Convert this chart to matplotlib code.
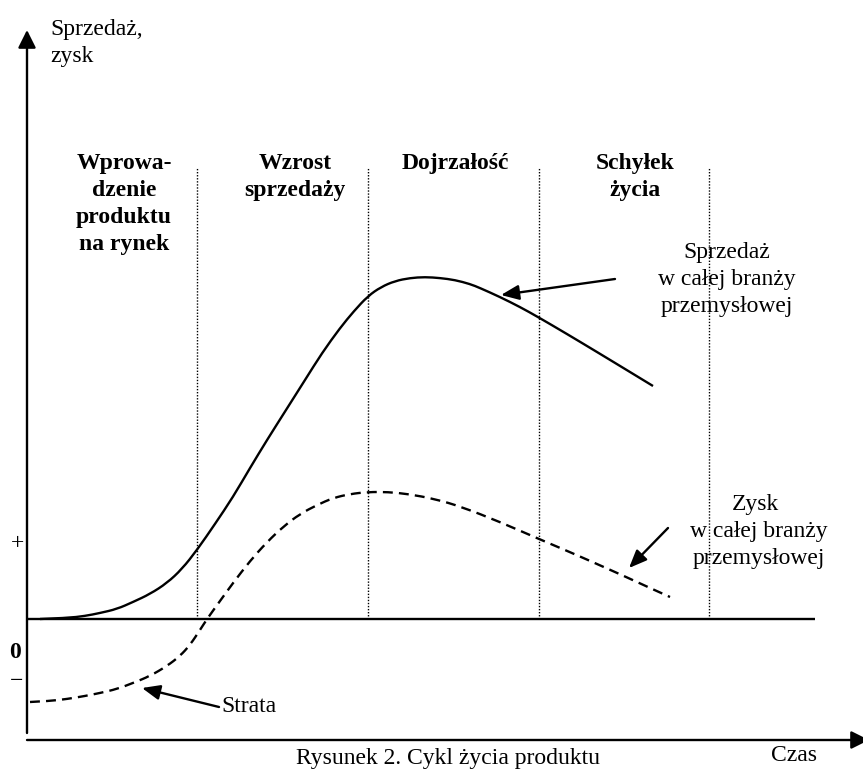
import matplotlib
matplotlib.use("Agg")
import matplotlib.pyplot as plt
from matplotlib.path import Path
from matplotlib.patches import PathPatch

plt.rcParams["font.family"] = ["Liberation Serif", "DejaVu Serif"]

# time axis: 0 at the vertical axis; value axis: 0 at the break-even line
phase_bounds = [170, 341, 512, 682]
phase_names = [
    ["Wprowa-", "dzenie", "produktu", "na rynek"],
    ["Wzrost", "sprzedaży"],
    ["Dojrzałość"],
    ["Schyłek", "życia"],
]

sales_t = [13, 40, 58, 73, 90, 106, 123, 140, 155, 170, 188, 206, 223, 240,
           259, 278, 295, 313, 327, 341, 354, 368, 383, 398, 413, 428, 443,
           453, 473, 493, 511, 540, 570, 603, 626]
sales_v = [0, 1, 3, 6, 10, 17, 25, 36, 50, 69, 95, 122, 151, 179,
           209, 239, 266, 291, 308, 323, 332, 338, 341, 342, 341, 339, 335,
           331, 322, 312, 302, 285, 267, 247, 233]

profit_t = [3, 23, 40, 58, 73, 90, 106, 123, 140, 153, 163, 173, 180, 193,
            206, 223, 240, 257, 273, 290, 306, 323, 341, 361, 381, 408, 435,
            473, 512, 538, 561, 597, 623, 643]
profit_v = [-83, -82, -80, -77, -74, -70, -64, -57, -47, -37, -26, -11, 0, 18,
            36, 58, 77, 93, 105, 114, 121, 125, 127, 127, 125, 120, 112,
            97, 80, 69, 59, 43, 31, 22]

side_marks = ["+", "0", "−"]


def P(x, y):
    # picture position -> data coordinates
    return x - 27, 619 - y


def smooth_path(xs, ys):
    # quadratic B-spline through the read points (points act as controls)
    pts = list(zip(xs, ys))
    verts = [pts[0]]
    codes = [Path.MOVETO]
    for i in range(1, len(pts) - 1):
        mid = ((pts[i][0] + pts[i + 1][0]) / 2, (pts[i][1] + pts[i + 1][1]) / 2)
        if i == len(pts) - 2:
            mid = pts[-1]
        verts += [pts[i], mid]
        codes += [Path.CURVE3, Path.CURVE3]
    return Path(verts, codes)


fig = plt.figure(figsize=(8.63, 7.69), dpi=100)
ax = fig.add_axes([0, 0, 1, 1])
ax.set_xlim(-27, 836)
ax.set_ylim(-150, 619)
ax.axis("off")

FS = 17
LW = 1.7

# axes with arrows
axis_arrow = dict(arrowstyle="-|>,head_length=0.6,head_width=0.3",
                  mutation_scale=18, lw=LW, color="black",
                  shrinkA=0, shrinkB=0)
ax.annotate("", xy=P(27, 30), xytext=P(27, 733), arrowprops=axis_arrow,
            annotation_clip=False)
ax.annotate("", xy=P(869, 740), xytext=P(27, 740), arrowprops=axis_arrow,
            annotation_clip=False)
ax.plot([0, 788], [0, 0], color="black", lw=LW, solid_capstyle="butt")

# phase separators
for b in phase_bounds:
    ax.plot([b, b], [0, 619 - 167], color="black", lw=1.0,
            linestyle=(0, (1, 1.2)))

# curves
ax.add_patch(PathPatch(smooth_path(sales_t, sales_v), fill=False,
                       edgecolor="black", lw=LW, capstyle="butt"))
ax.add_patch(PathPatch(smooth_path(profit_t, profit_v), fill=False,
                       edgecolor="black", lw=LW, linestyle=(0, (4.2, 2.6))))

# phase labels
centers = [124, 295, 455, 635]
for cx, lines in zip(centers, phase_names):
    for i, s in enumerate(lines):
        ax.text(*P(cx, 169 + 27 * i), s, ha="center", va="baseline",
                fontsize=FS, fontweight="bold")

# axis labels
ax.text(*P(50, 35), "Sprzedaż,", fontsize=FS, va="baseline")
ax.text(*P(50, 62), "zysk", fontsize=FS, va="baseline")
ax.text(*P(794, 761), "Czas", fontsize=FS, ha="center", va="baseline")

for s, (x, y), w in zip(side_marks, [(17, 544), (15, 653), (17, 682)],
                        ["normal", "bold", "normal"]):
    ax.text(*P(x, y), s, fontsize=FS, ha="center", va="center", fontweight=w)

# curve annotations
arrow = dict(arrowstyle="-|>,head_length=0.6,head_width=0.25",
             mutation_scale=18, lw=LW, color="black", shrinkA=0, shrinkB=0)
for i, s in enumerate(["Sprzedaż", "w całej branży", "przemysłowej"]):
    ax.text(*P(727, 258 + 27 * i), s, fontsize=FS, ha="center", va="baseline")
ax.annotate("", xy=P(501, 295), xytext=P(615, 279), arrowprops=arrow)

for i, s in enumerate(["Zysk", "w całej branży", "przemysłowej"]):
    ax.text(*P(759 if i else 755, 510 + 27 * i), s, fontsize=FS,
            ha="center", va="baseline")
ax.annotate("", xy=P(629, 568), xytext=P(668, 528), arrowprops=arrow)

ax.text(*P(221, 712), "Strata", fontsize=FS, va="baseline")
ax.annotate("", xy=P(142, 688), xytext=P(219, 707), arrowprops=arrow)

# caption
ax.text(*P(448, 764), "Rysunek 2. Cykl życia produktu", fontsize=FS,
        ha="center", va="baseline")

fig.savefig("out.png", dpi=100)
